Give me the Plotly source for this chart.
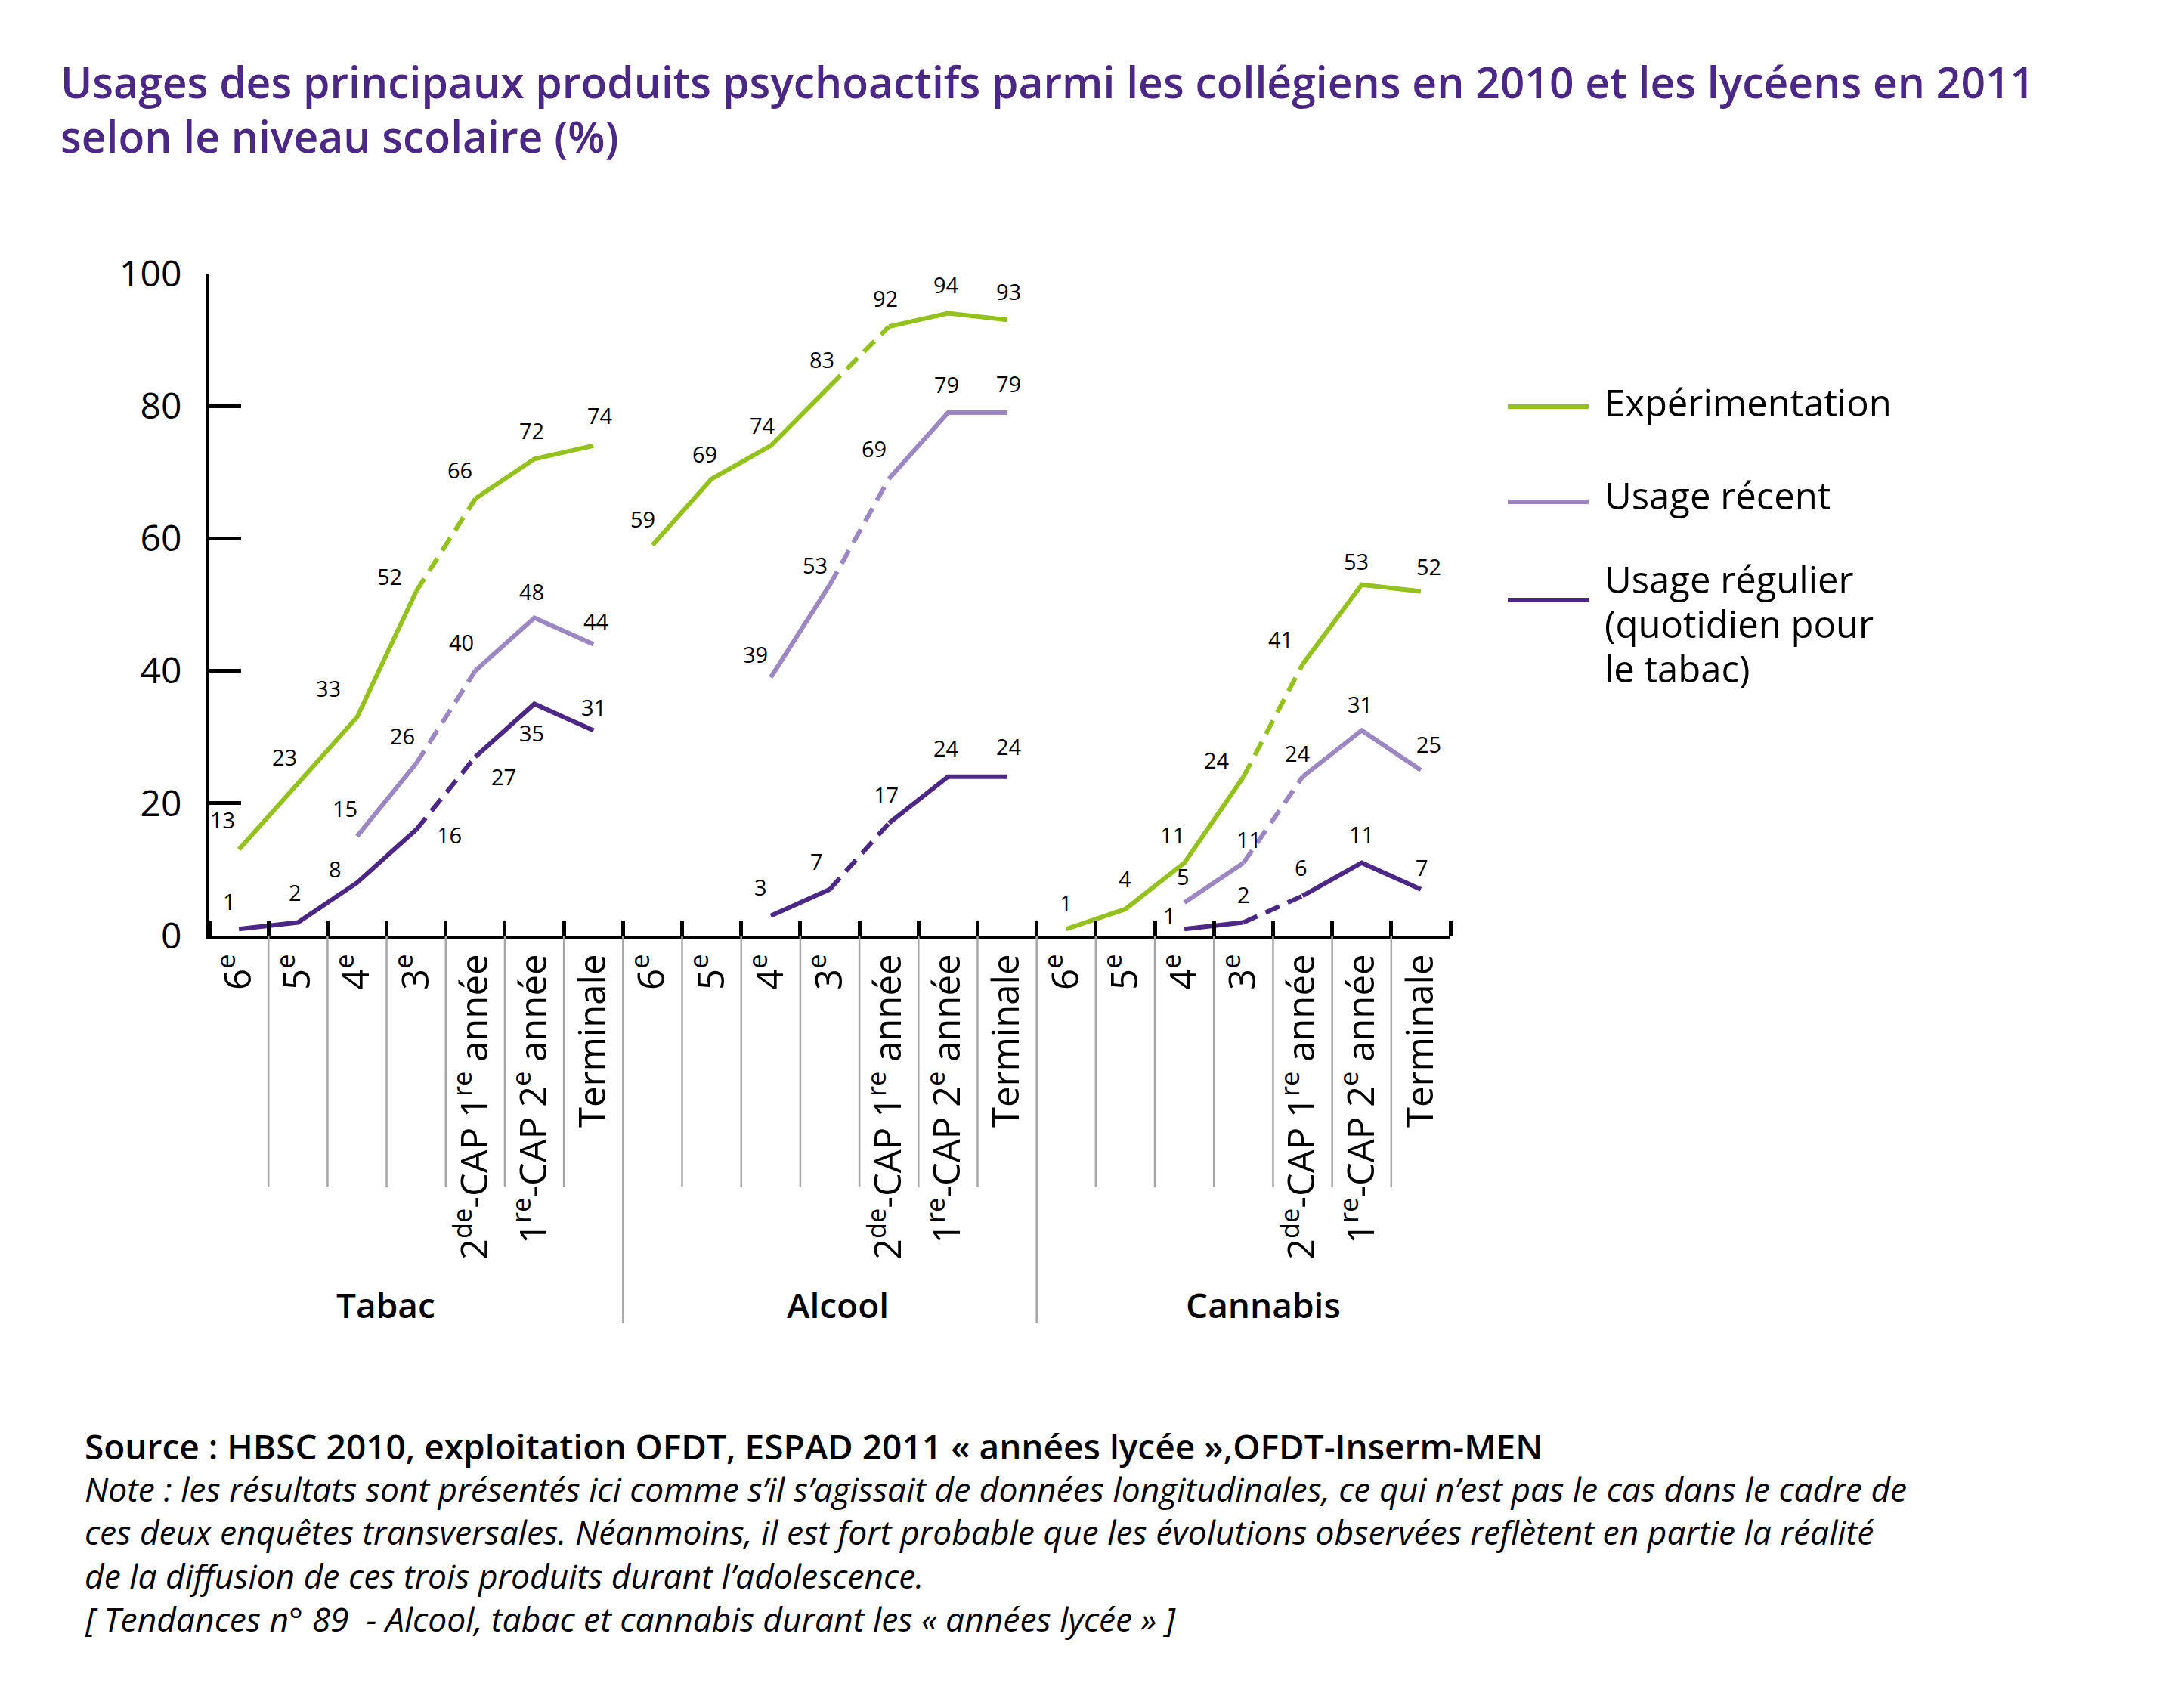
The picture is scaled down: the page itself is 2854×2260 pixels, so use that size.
import plotly.graph_objects as go

# niveaux scolaires (axe des x, répété pour chaque produit)
niveaux = ["6<sup>e</sup>", "5<sup>e</sup>", "4<sup>e</sup>", "3<sup>e</sup>",
           "2<sup>de</sup>-CAP 1<sup>re</sup> année",
           "1<sup>re</sup>-CAP 2<sup>e</sup> année", "Terminale"]
produits = ["Tabac", "Alcool", "Cannabis"]
usages = ["Expérimentation", "Usage récent",
          "Usage régulier<br>(quotidien pour<br>le tabac)"]

# valeurs en %, None = pas de donnée
tabac_exp = [13, 23, 33, 52, 66, 72, 74]
tabac_recent = [None, None, 15, 26, 40, 48, 44]
tabac_regulier = [1, 2, 8, 16, 27, 35, 31]
alcool_exp = [59, 69, 74, 83, 92, 94, 93]
alcool_recent = [None, None, 39, 53, 69, 79, 79]
alcool_regulier = [None, None, 3, 7, 17, 24, 24]
cannabis_exp = [1, 4, 11, 24, 41, 53, 52]
cannabis_recent = [None, None, 5, 11, 24, 31, 25]
cannabis_regulier = [None, None, 1, 2, 6, 11, 7]

series = {
    "Tabac": [tabac_exp, tabac_recent, tabac_regulier],
    "Alcool": [alcool_exp, alcool_recent, alcool_regulier],
    "Cannabis": [cannabis_exp, cannabis_recent, cannabis_regulier],
}

colors = ["#95C11F", "#9B87C1", "#4B2885"]
purple = "#4B2885"
font = "Open Sans"

# décalage (px) des étiquettes de valeur par rapport au point
label_shift = {
    "Tabac": [
        [(-22, 40), (-18, 35), (-38, 38), (-35, 20), (-20, 38), (-4, 38), (9, 40)],
        [None, None, (-16, 37), (-18, 37), (-18, 38), (-4, 35), (4, 31)],
        [(-13, 37), (-4, 40), (-29, 18), (44, -7), (38, -26), (-4, -38), (0, 31)],
    ],
    "Alcool": [
        [(-13, 35), (-9, 33), (-11, 27), (-11, 35), (-5, 38), (-2, 38), (2, 38)],
        [None, None, (-20, 31), (-20, 26), (-20, 40), (-2, 37), (2, 38)],
        [None, None, (-13, 38), (-18, 37), (-4, 38), (-2, 38), (2, 40)],
    ],
    "Cannabis": [
        [(0, 35), (0, 40), (-16, 37), (-35, 22), (-29, 33), (-7, 31), (11, 33)],
        [None, None, (-2, 35), (7, 31), (-7, 31), (-2, 35), (11, 35)],
        [None, None, (-20, 18), (0, 37), (-2, 38), (0, 38), (2, 29)],
    ],
}

# géométrie de la zone de tracé (px)
W, H = 2854, 2260
L, R, T, B = 269, 1911, 354, 1230
n = len(niveaux)
nslots = n * len(produits)


def px(x):
    return (x - L) / (R - L)


def py(y):
    return (B - y) / (B - T)


def paper_text(x, y, text, size, anchor="left", **fontkw):
    return dict(x=px(x), y=py(y), xref="paper", yref="paper", text=text,
                showarrow=False, xanchor=anchor, yanchor="middle", align="left",
                font=dict(family=font, size=size, color=fontkw.pop("color", "black"), **fontkw))


fig = go.Figure()
ann = []

for g, prod in enumerate(produits):
    xs = [g * n + i for i in range(n)]
    for s, vals in enumerate(series[prod]):
        # collège (trait plein), passage 3e -> 2de (pointillés), lycée (trait plein)
        parts = [(0, 4, "solid"), (3, 5, "20px,12px"), (4, 7, "solid")]
        for a, b, dash in parts:
            fig.add_trace(go.Scatter(
                x=xs[a:b], y=vals[a:b], mode="lines",
                line=dict(color=colors[s], width=6, dash=dash),
                showlegend=False, hoverinfo="skip"))
        for i, v in enumerate(vals):
            if v is None:
                continue
            dx, dy = label_shift[prod][s][i]
            ann.append(dict(x=xs[i], y=v, xref="x", yref="y", text=str(v),
                            showarrow=False, xshift=dx, yshift=dy,
                            font=dict(family=font, size=29, color="black")))
    ann.append(paper_text([502, 1100, 1663][g], 1718, prod, 46,
                          anchor="center", weight=600))

# séparateurs gris sous l'axe
shapes = []
for k in range(1, nslots):
    long_line = k % n == 0
    shapes.append(dict(type="line", xref="x", yref="paper",
                       x0=k - 0.5, x1=k - 0.5, y0=0,
                       y1=py(1743 if long_line else 1563),
                       line=dict(color="#A6A6A6", width=2.5)))

# légende (une ligne de texte par annotation pour garder l'interligne)
leg_y = [(530, 524), (656, 647), (786, 758)]
for s, name in enumerate(usages):
    ly, ty = leg_y[s]
    shapes.append(dict(type="line", xref="paper", yref="paper",
                       x0=px(1987), x1=px(2094), y0=py(ly), y1=py(ly),
                       line=dict(color=colors[s], width=6)))
    for j, part in enumerate(name.split("<br>")):
        ann.append(paper_text(2113, ty + 59 * j, part, 49))

# titre
ann.append(paper_text(70, 100, "Usages des principaux produits psychoactifs parmi les collégiens en 2010 et les lycéens en 2011",
                      57, color=purple, weight=600))
ann.append(paper_text(70, 172, "selon le niveau scolaire (%)", 57, color=purple, weight=600))

# source et note
notes = [
    "Note : les résultats sont présentés ici comme s’il s’agissait de données longitudinales, ce qui n’est pas le cas dans le cadre de",
    "ces deux enquêtes transversales. Néanmoins, il est fort probable que les évolutions observées reflètent en partie la réalité",
    "de la diffusion de ces trois produits durant l’adolescence.",
    "[ Tendances n° 89  - Alcool, tabac et cannabis durant les « années lycée » ]",
]
ann.append(paper_text(102, 1905,
                      "Source : HBSC 2010, exploitation OFDT, ESPAD 2011 « années lycée »,OFDT-Inserm-MEN",
                      46, weight=600))
for j, line in enumerate(notes):
    ann.append(paper_text(102, 1962 + 57.3 * j, f"<i>{line}</i>", 44.4))

fig.update_layout(
    width=W, height=H,
    margin=dict(l=L, r=W - R, t=T, b=H - B, pad=0),
    paper_bgcolor="white", plot_bgcolor="white",
    font=dict(family=font, color="black"),
    annotations=ann, shapes=shapes, showlegend=False,
    xaxis=dict(range=[-0.5, nslots - 0.5],
               tickmode="array", tickvals=list(range(nslots)),
               ticktext=niveaux * len(produits), tickangle=-90,
               ticks="", showgrid=False, zeroline=False,
               showline=True, linecolor="black", linewidth=5,
               tickfont=dict(family=font, size=49, color="black"),
               ticklabelstandoff=0,
               minor=dict(tickmode="linear", tick0=-0.5, dtick=1,
                          ticks="inside", ticklen=20, tickwidth=5,
                          tickcolor="black", showgrid=False)),
    yaxis=dict(range=[0, 100], tickvals=[0, 20, 40, 60, 80, 100],
               ticks="inside", ticklen=42, tickwidth=5, tickcolor="black",
               showgrid=False, zeroline=False,
               showline=True, linecolor="black", linewidth=5,
               tickfont=dict(family=font, size=48, color="black"),
               ticklabelstandoff=22),
)

fig.write_html("out.html")
